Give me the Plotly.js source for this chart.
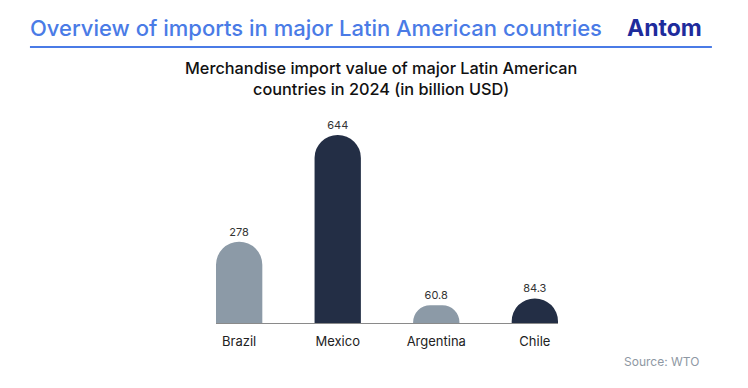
<!DOCTYPE html>
<html>
<head>
<meta charset="utf-8">
<script src="https://cdn.plot.ly/plotly-3.0.1.min.js"></script>
<style>html,body{margin:0;padding:0;background:#fff;}#chart{width:748px;height:388px;}</style>
</head>
<body>
<div id="chart"></div>
<script>
const countries = ["Brazil", "Mexico", "Argentina", "Chile"];
const imports = [278, 644, 60.8, 84.3];
const labels = ["278", "644", "60.8", "84.3"];
const barColors = ["#8C9AA7", "#232E45", "#8C9AA7", "#232E45"];

const font = "Inter, 'Open Sans', sans-serif";

const trace = {
  type: "bar",
  x: countries,
  y: imports,
  text: labels,
  textposition: "outside",
  textfont: {family: font, size: 11, color: "#333333"},
  cliponaxis: false,
  width: 0.47,
  marker: {color: barColors, cornerradius: "50%"},
  hoverinfo: "x+y"
};

const layout = {
  width: 748, height: 388,
  margin: {l: 216, r: 190, t: 120, b: 65},
  paper_bgcolor: "#ffffff",
  plot_bgcolor: "#ffffff",
  showlegend: false,
  font: {family: font},
  xaxis: {
    type: "category",
    range: [-0.235, 3.235],
    showline: true, linecolor: "#8a8a8a", linewidth: 1,
    showgrid: false, zeroline: false, ticks: "",
    tickfont: {family: font, size: 13, color: "#222222"},
    ticklabelstandoff: 6,
    fixedrange: true
  },
  yaxis: {
    range: [0, 695],
    visible: false, showgrid: false, zeroline: false,
    fixedrange: true
  },
  shapes: [
    {type: "line", xref: "paper", yref: "paper",
     x0: -0.544, x1: 1.45, y0: 1.36, y1: 1.36,
     line: {color: "#4A7BE6", width: 2}}
  ],
  annotations: [
    {text: "Overview of imports in major Latin American countries",
     xref: "paper", yref: "paper", x: -0.55, y: 1.453, xanchor: "left", yanchor: "middle",
     showarrow: false, font: {family: font, size: 22, color: "#4A7BE6", weight: 500}},
    {text: "Antom",
     xref: "paper", yref: "paper", x: 1.31, y: 1.455, xanchor: "center", yanchor: "middle",
     showarrow: false, font: {family: font, size: 23, color: "#1E2B9C", weight: 700}},
    {text: "Merchandise import value of major Latin American<br>countries in 2024 (in billion USD)",
     xref: "paper", yref: "paper", x: 0.483, y: 1.204, xanchor: "center", yanchor: "middle",
     showarrow: false, align: "center",
     font: {family: font, size: 16.3, color: "#111111", weight: 500}},
    {text: "Source: WTO",
     xref: "paper", yref: "paper", x: 1.418, y: -0.192, xanchor: "right", yanchor: "middle",
     showarrow: false, font: {family: font, size: 12, color: "#8E98A3"}}
  ]
};

Plotly.newPlot("chart", [trace], layout, {displayModeBar: false, staticPlot: true});
</script>
</body>
</html>
